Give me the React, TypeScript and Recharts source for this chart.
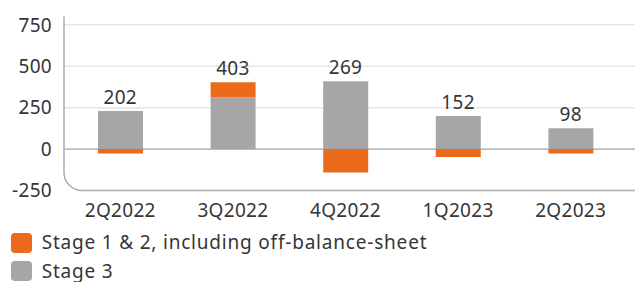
import React from 'react';
import {
  ComposedChart,
  Bar,
  Line,
  XAxis,
  YAxis,
  CartesianGrid,
  ReferenceArea,
  LabelList,
} from 'recharts';

const categories = ['2Q2022', '3Q2022', '4Q2022', '1Q2023', '2Q2023'];
const stage12 = [-27, 90, -141, -48, -27];
const stage3 = [229, 313, 410, 200, 125];
const totals = [202, 403, 269, 152, 98];
const yTicks = [-250, 0, 250, 500, 750];
const gridValues = [250, 500, 750];
const zeroValues = [0];

const seriesNames = ['Stage 1 & 2, including off-balance-sheet', 'Stage 3'];
const ORANGE = '#ec6a1c';
const GRAY = '#a6a6a6';
const TEXT = '#363636';
const FONT = '"Noto Sans", sans-serif';
const W = 635;
const H = 222;

const data = categories.map((c, i) => ({
  cat: c,
  stage12: stage12[i],
  stage3: stage3[i],
  total: totals[i],
  labelPos: Math.max(stage12[i], 0) + Math.max(stage3[i], 0),
}));

const Frame = (props: any) => {
  const { x, y, height } = props;
  const r = 18;
  const b = y + height;
  return (
    <path
      d={`M ${x} ${y} V ${b - r} A ${r} ${r} 0 0 0 ${x + r} ${b} H ${W}`}
      fill="none"
      stroke="#a9adb3"
      strokeWidth={1.5}
    />
  );
};

export default function App() {
  const tickStyle = { fontSize: 19, fill: TEXT, fontFamily: FONT, letterSpacing: 0.3 };
  return (
    <div style={{ position: 'absolute', left: 0, top: 0, width: W, height: 282, fontFamily: FONT, overflow: 'hidden' }}>
      <ComposedChart
        width={W}
        height={H}
        data={data}
        margin={{ top: 16.5, right: 0, bottom: 0, left: 0 }}
        stackOffset="sign"
        barSize={45}
      >
        <CartesianGrid vertical={false} horizontalValues={gridValues} stroke="#e6e6e6" strokeWidth={1.5} />
        <CartesianGrid vertical={false} horizontalValues={zeroValues} stroke="#a3a3a3" strokeWidth={1.2} />
        <XAxis
          dataKey="cat"
          axisLine={false}
          tickLine={false}
          tickSize={0}
          tickMargin={13}
          height={31.5}
          interval={0}
          padding={{ left: 0, right: 8 }}
          tick={tickStyle}
        />
        <YAxis
          type="number"
          domain={[-250, 800]}
          ticks={yTicks}
          axisLine={false}
          tickLine={false}
          tickSize={0}
          tickMargin={12}
          width={64}
          tick={tickStyle}
        />
        <Bar dataKey="stage3" stackId="a" fill={GRAY} isAnimationActive={false} />
        <Bar dataKey="stage12" stackId="a" fill={ORANGE} isAnimationActive={false} />
        <ReferenceArea y1={-250} y2={800} ifOverflow="visible" shape={Frame} />
        <Line
          dataKey="labelPos"
          stroke="none"
          dot={false}
          activeDot={false}
          legendType="none"
          isAnimationActive={false}
        >
          <LabelList
            dataKey="total"
            position="top"
            offset={7}
            fill={TEXT}
            fontSize={19}
            fontFamily={FONT}
            style={{ letterSpacing: 0.3 }}
          />
        </Line>
      </ComposedChart>
      <div style={{ marginTop: 6.25 }}>
        {seriesNames.map((name, i) => (
          <div key={name} style={{ display: 'flex', alignItems: 'center', height: 28.5 }}>
            <span
              style={{
                display: 'inline-block',
                width: 21,
                height: 20,
                borderRadius: 4,
                background: i === 0 ? ORANGE : GRAY,
                marginLeft: 10.5,
                marginRight: 10.2,
              }}
            />
            <span
              style={{
                fontSize: 19,
                lineHeight: '19px',
                color: TEXT,
                fontFamily: FONT,
                whiteSpace: 'nowrap',
                letterSpacing: 0.8,
              }}
            >
              {name}
            </span>
          </div>
        ))}
      </div>
    </div>
  );
}
